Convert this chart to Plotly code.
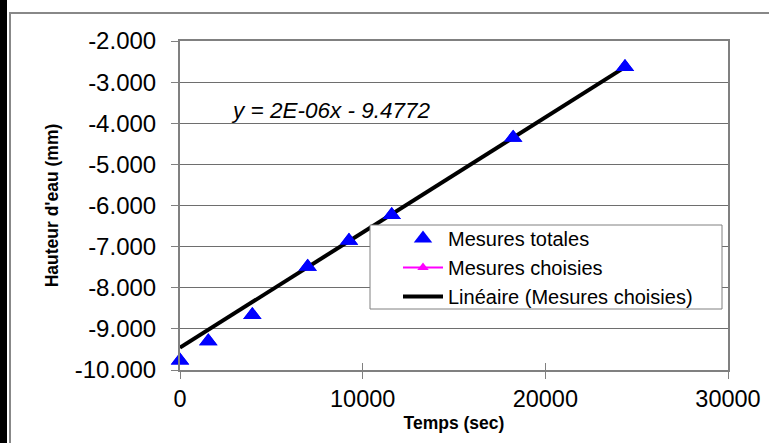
import numpy as np
import plotly.graph_objects as go

# ---- data ----
time_s = [0, 1550, 3960, 6990, 9250, 11590, 18240, 24360]
hauteur_mm = [-9.77, -9.30, -8.66, -7.49, -6.86, -6.23, -4.35, -2.63]
chosen_idx = [3, 4, 5, 6, 7]
equation_text = "y = 2E-06x - 9.4772"
y_tick_vals = [-2, -3, -4, -5, -6, -7, -8, -9, -10]
y_tick_labels = ["-2.000", "-3.000", "-4.000", "-5.000", "-6.000",
                 "-7.000", "-8.000", "-9.000", "-10.000"]
x_tick_vals = [0, 10000, 20000, 30000]
x_tick_labels = ["0", "10000", "20000", "30000"]

# linear trendline of the chosen measurements
cx = np.array([time_s[i] for i in chosen_idx], dtype=float)
cy = np.array([hauteur_mm[i] for i in chosen_idx], dtype=float)
slope, intercept = np.polyfit(cx, cy, 1)
trend_x = np.array([0.0, max(time_s)])
trend_y = slope * trend_x + intercept

FONT = "Liberation Sans, Arial, Helvetica, sans-serif"
W, H = 769, 443
L, R, T, B = 180, 41, 41, 73
pw, ph = W - L - R, H - T - B


def px(xp):
    return (xp - L) / pw


def py(yp):
    return (H - B - yp) / ph


fig = go.Figure()
fig.add_trace(go.Scatter(
    x=time_s, y=hauteur_mm, mode="markers", name="Mesures totales",
    marker=dict(symbol="triangle-up", size=16, color="#0000FF"),
    cliponaxis=False))
fig.add_trace(go.Scatter(
    x=[None], y=[None], mode="lines+markers", name="Mesures choisies",
    line=dict(color="#FF00FF", width=2),
    marker=dict(symbol="triangle-up", size=10, color="#FF00FF")))
fig.add_trace(go.Scatter(
    x=trend_x, y=trend_y, mode="lines", name="Linéaire (Mesures choisies)",
    line=dict(color="#000000", width=4), cliponaxis=False))
# draw markers again on top of the trend line
fig.add_trace(go.Scatter(
    x=time_s, y=hauteur_mm, mode="markers", showlegend=False,
    marker=dict(symbol="triangle-up", size=16, color="#0000FF"),
    cliponaxis=False, hoverinfo="skip"))

fig.add_annotation(
    x=8265, y=-3.68, xref="x", yref="y", text="<i>" + equation_text + "</i>",
    showarrow=False, font=dict(family=FONT, size=22.5, color="#000000"))

shapes = [
    # outer chart frame
    dict(type="rect", xref="paper", yref="paper",
         x0=px(10), x1=px(820), y0=py(480), y1=py(13),
         line=dict(color="#888888", width=2), fillcolor="rgba(0,0,0,0)",
         layer="below"),
    # black bar on the left edge
    dict(type="rect", xref="paper", yref="paper",
         x0=px(0), x1=px(7), y0=py(443), y1=py(0),
         line=dict(width=0), fillcolor="#000000", layer="below"),
    # legend box
    dict(type="rect", xref="paper", yref="paper",
         x0=px(370), x1=px(722), y0=py(309), y1=py(225),
         line=dict(color="#808080", width=1), fillcolor="#FFFFFF",
         layer="above"),
]

fig.update_layout(
    width=W, height=H,
    margin=dict(l=L, r=R, t=T, b=B, autoexpand=False),
    paper_bgcolor="#FFFFFF", plot_bgcolor="#FFFFFF",
    font=dict(family=FONT, color="#000000"),
    showlegend=True,
    legend=dict(x=px(398), y=py(219), xanchor="left", yanchor="top",
                bgcolor="rgba(0,0,0,0)", borderwidth=0, itemwidth=40,
                font=dict(family=FONT, size=20, color="#000000"),
                tracegroupgap=0, traceorder="normal"),
    shapes=shapes,
    xaxis=dict(range=[0, 30000], tickvals=x_tick_vals, ticktext=x_tick_labels,
               showgrid=False, zeroline=False, showline=True, mirror=True,
               linecolor="#808080", linewidth=2,
               ticks="outside", ticklen=7, tickcolor="#808080", tickwidth=1,
               tickfont=dict(family=FONT, size=23.5, color="#000000"),
               title=dict(text="<b>Temps (sec)</b>", standoff=6,
                          font=dict(family=FONT, size=17.5, color="#000000"))),
    xaxis2=dict(range=[0, 30000], overlaying="x", anchor="y", side="bottom",
                tickvals=x_tick_vals, showticklabels=False, showgrid=False,
                zeroline=False, showline=False, ticks="inside", ticklen=7,
                tickcolor="#808080", tickwidth=1),
    yaxis=dict(range=[-10, -2], tickvals=y_tick_vals, ticktext=y_tick_labels,
               showgrid=True, gridcolor="#6E6E6E", gridwidth=1,
               zeroline=False, showline=True, mirror=True,
               linecolor="#808080", linewidth=2,
               ticks="outside", ticklen=7, tickcolor="#808080", tickwidth=1,
               ticklabelstandoff=10,
               tickfont=dict(family=FONT, size=24, color="#000000"),
               title=dict(text="<b>Hauteur d'eau (mm)</b>", standoff=12,
                          font=dict(family=FONT, size=17.5, color="#000000"))),
)
# attach an invisible trace to xaxis2 so the cross ticks render
fig.add_trace(go.Scatter(x=[None], y=[None], xaxis="x2", yaxis="y",
                         showlegend=False, hoverinfo="skip"))

fig.write_html(
    "out.html",
    config={"displayModeBar": False},
    post_script="document.body.style.margin='0';"
                "document.body.style.overflow='hidden';")
